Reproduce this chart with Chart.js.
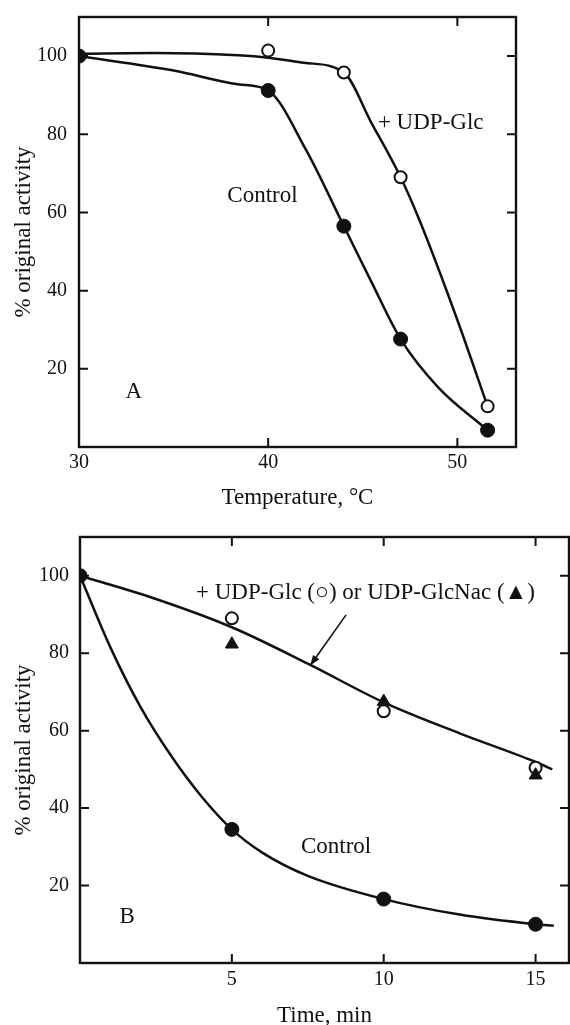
<!DOCTYPE html>
<html>
<head>
<meta charset="utf-8">
<script src="https://cdn.jsdelivr.net/npm/chart.js@4.4.1/dist/chart.umd.min.js"></script>
<style>
  html, body { margin: 0; padding: 0; background: #fff; overflow: hidden; }
  .panel { position: absolute; left: 0; width: 570px; height: 520px; }
  #panel-a { top: 0; }
  #panel-b { top: 520px; }
</style>
</head>
<body>
<div class="panel" id="panel-a"><canvas id="chart-a" width="570" height="520"></canvas></div>
<div class="panel" id="panel-b"><canvas id="chart-b" width="570" height="520"></canvas></div>
<script>
// Panel A: activity left after heating at each temperature
const tempA = [30, 40, 44, 47, 51.6];
const controlA = [100, 91.2, 56.5, 27.6, 4.3];
const udpGlcA = [100, 101.4, 95.8, 69, 10.4];
// hand-drawn curves
const controlCurveTempA = [30, 35, 38.4, 40, 42, 44, 45.45, 47, 49, 51.6];
const controlCurveA = [100, 96.3, 92.8, 91.2, 76, 56.5, 42.3, 27.6, 15.2, 4.3];
const udpGlcCurveTempA = [30, 34, 38.4, 40, 41.9, 44, 45.45, 47, 48, 50, 51.6];
const udpGlcCurveA = [100.6, 100.8, 100.2, 99.6, 98.3, 95.8, 83, 69, 58, 32.5, 10.4];
const xTicksA = [30, 40, 50];

// Panel B: activity vs time of heating
const timeB = [0, 5, 10, 15];
const controlB = [100, 34.5, 16.5, 10];
const udpGlcB = [100, 89, 65, 50.4];
const timeNacB = [5, 10, 15];
const udpGlcNacB = [82.3, 67.5, 48.5];
const upperCurveTimeB = [0, 2.5, 5, 7.5, 10, 12.5, 15, 15.55];
const upperCurveB = [100, 94, 86.7, 77.3, 67.3, 59.3, 51.9, 50];
const controlCurveTimeB = [0, 1, 2, 3, 4, 5, 6, 7.5, 10, 12.5, 15, 15.6];
const controlCurveB = [100, 81.5, 66, 53.5, 43, 34.5, 28.5, 22.5, 16.5, 12.5, 10, 9.6];
const xTicksB = [5, 10, 15];

const yTicks = [20, 40, 60, 80, 100];

const INK = '#111';
const SERIF = '"Liberation Serif", "Times New Roman", serif';

function pairs(xs, ys) {
    return xs.map((x, i) => ({ x: x, y: ys[i] }));
}

// frame, inward tick marks, labels and arrow
const figurePlugin = {
    id: 'figure',
    afterDraw(chart, args, opts) {
        const { ctx, chartArea: a, scales } = chart;
        const sx = scales.x, sy = scales.y;
        ctx.save();
        ctx.strokeStyle = INK;
        ctx.fillStyle = INK;
        ctx.lineWidth = 2.4;
        ctx.strokeRect(a.left, a.top, a.right - a.left, a.bottom - a.top);
        ctx.lineWidth = 2;
        ctx.beginPath();
        opts.xTicks.forEach(v => {
            const px = sx.getPixelForValue(v);
            ctx.moveTo(px, a.bottom); ctx.lineTo(px, a.bottom - 9);
            ctx.moveTo(px, a.top); ctx.lineTo(px, a.top + 9);
        });
        yTicks.forEach(v => {
            const py = sy.getPixelForValue(v);
            ctx.moveTo(a.left, py); ctx.lineTo(a.left + 9, py);
            ctx.moveTo(a.right, py); ctx.lineTo(a.right - 9, py);
        });
        ctx.stroke();

        ctx.font = '23px ' + SERIF;
        ctx.textBaseline = 'middle';
        opts.labels.forEach(l => {
            ctx.textAlign = l.align || 'center';
            ctx.fillText(l.text, sx.getPixelForValue(l.x), sy.getPixelForValue(l.y));
        });

        if (opts.arrow) {
            const x1 = sx.getPixelForValue(opts.arrow.from[0]);
            const y1 = sy.getPixelForValue(opts.arrow.from[1]);
            const x2 = sx.getPixelForValue(opts.arrow.to[0]);
            const y2 = sy.getPixelForValue(opts.arrow.to[1]);
            const ang = Math.atan2(y2 - y1, x2 - x1);
            ctx.lineWidth = 1.6;
            ctx.beginPath();
            ctx.moveTo(x1, y1); ctx.lineTo(x2, y2);
            ctx.stroke();
            ctx.beginPath();
            ctx.moveTo(x2, y2);
            ctx.lineTo(x2 - 11 * Math.cos(ang - 0.35), y2 - 11 * Math.sin(ang - 0.35));
            ctx.lineTo(x2 - 11 * Math.cos(ang + 0.35), y2 - 11 * Math.sin(ang + 0.35));
            ctx.closePath();
            ctx.fill();
        }
        ctx.restore();
    }
};

function curve(data) {
    return {
        data: data, showLine: true, borderColor: INK, borderWidth: 2.5,
        pointRadius: 0, cubicInterpolationMode: 'monotone', order: 5
    };
}

function marks(data, style, radius, filled, order) {
    return {
        data: data, showLine: false, pointStyle: style, pointRadius: radius,
        pointBackgroundColor: filled ? INK : '#fff', pointBorderColor: INK,
        pointBorderWidth: filled ? 1 : 2, order: order
    };
}

// keep the plot box where the figure has it
function noPad(s) {
    s.paddingLeft = 0; s.paddingRight = 0; s.paddingTop = 0; s.paddingBottom = 0;
}

function makeChart(id, cfg) {
    const tickFont = { family: SERIF, size: 20 };
    const titleFont = { family: SERIF, size: 23 };
    return new Chart(document.getElementById(id), {
        type: 'scatter',
        data: { datasets: cfg.datasets },
        options: {
            responsive: false,
            animation: false,
            layout: { padding: cfg.padding, autoPadding: false },
            plugins: {
                legend: { display: false },
                tooltip: { enabled: false },
                figure: cfg.figure
            },
            scales: {
                x: {
                    type: 'linear', min: cfg.xMin, max: cfg.xMax,
                    grid: { display: false, drawTicks: false },
                    border: { display: false },
                    afterBuildTicks: s => { s.ticks = cfg.xTicks.map(v => ({ value: v })); },
                    afterFit: s => { s.height = cfg.xHeight; noPad(s); },
                    ticks: { font: tickFont, color: INK, padding: cfg.xPad, maxRotation: 0 },
                    title: {
                        display: true, text: cfg.xTitle, font: titleFont, color: INK,
                        padding: { top: 0, bottom: cfg.xTitlePad }
                    }
                },
                y: {
                    type: 'linear', min: 0, max: 110,
                    grid: { display: false, drawTicks: false },
                    border: { display: false },
                    afterBuildTicks: s => { s.ticks = yTicks.map(v => ({ value: v })); },
                    afterFit: s => { s.width = cfg.yWidth; noPad(s); },
                    ticks: { font: tickFont, color: INK, padding: cfg.yPad },
                    title: {
                        display: true, text: '% original activity', font: titleFont, color: INK,
                        padding: { top: 10, bottom: 0 }
                    }
                }
            }
        },
        plugins: [figurePlugin]
    });
}

makeChart('chart-a', {
    xMin: 30, xMax: 53.1, xTicks: xTicksA, xTitle: 'Temperature, \u00B0C',
    padding: { left: 0, top: 17, right: 54, bottom: 0 },
    xHeight: 73, yWidth: 79, xPad: 4, yPad: 12, xTitlePad: 8,
    datasets: [
        curve(pairs(udpGlcCurveTempA, udpGlcCurveA)),
        curve(pairs(controlCurveTempA, controlCurveA)),
        marks(pairs(tempA, udpGlcA), 'circle', 6, false, 2),
        marks(pairs(tempA, controlA), 'circle', 7, true, 1)
    ],
    figure: {
        xTicks: xTicksA,
        labels: [
            { text: '+ UDP-Glc', x: 45.8, y: 82.8, align: 'left' },
            { text: 'Control', x: 39.7, y: 64.3 },
            { text: 'A', x: 32.9, y: 14.2 }
        ]
    }
});

makeChart('chart-b', {
    xMin: 0, xMax: 16.1, xTicks: xTicksB, xTitle: 'Time, min',
    padding: { left: 0, top: 17, right: 1, bottom: 0 },
    xHeight: 77, yWidth: 80, xPad: 5, yPad: 11, xTitlePad: 10,
    datasets: [
        curve(pairs(upperCurveTimeB, upperCurveB)),
        curve(pairs(controlCurveTimeB, controlCurveB)),
        marks(pairs(timeB, udpGlcB), 'circle', 6, false, 3),
        marks(pairs(timeNacB, udpGlcNacB), 'triangle', 7.5, true, 2),
        marks(pairs(timeB, controlB), 'circle', 7, true, 1)
    ],
    figure: {
        xTicks: xTicksB,
        labels: [
            { text: '+ UDP-Glc (\u25CB) or UDP-GlcNac (\u25B2)', x: 9.4, y: 95.5 },
            { text: 'Control', x: 8.43, y: 30.0 },
            { text: 'B', x: 1.55, y: 11.9 }
        ],
        arrow: { from: [8.76, 89.9], to: [7.58, 76.8] }
    }
});
</script>
</body>
</html>
